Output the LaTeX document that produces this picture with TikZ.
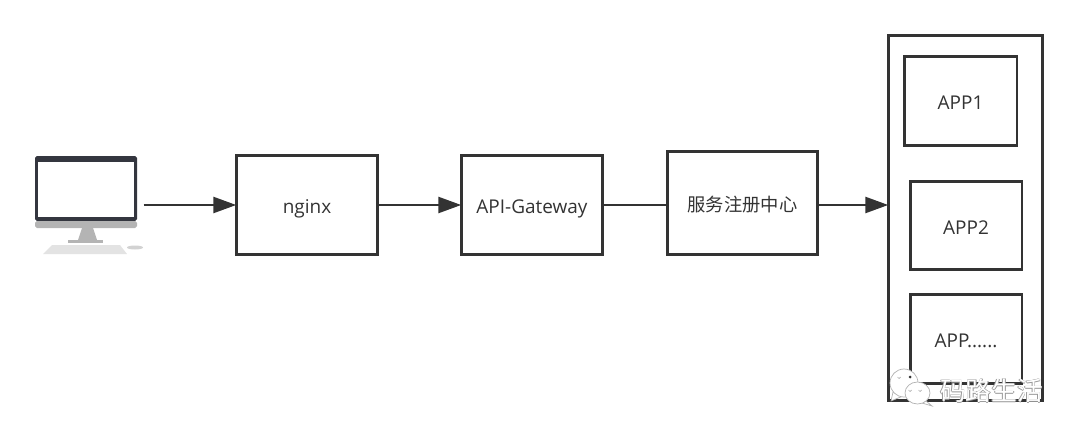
\documentclass[tikz,border=0pt]{standalone}
\usepackage{fontspec}
\setmainfont{Open Sans}
\newfontfamily\cjk{Noto Sans CJK SC}
\usetikzlibrary{arrows.meta}
\definecolor{linegray}{HTML}{333333}
\definecolor{screengray}{HTML}{34363F}
\definecolor{standgray}{HTML}{B4B4B4}

\begin{document}
\begin{tikzpicture}[x=0.02cm,y=-0.02cm,semithick]
\tikzstyle{every node}=[text=linegray,font=\fontsize{10.8}{12}\selectfont]
\tikzstyle{box}=[draw=linegray,line width=1.7pt,inner sep=0pt,text height=10pt,text depth=0pt]
\tikzstyle{link}=[draw=linegray,line width=1.6pt]
\tikzstyle{flow}=[link,shorten >=-1pt,-{Triangle[length=13pt,width=9pt]}]
\tikzstyle{bubble}=[draw=gray!60,fill=white,line width=0.4pt]
\useasboundingbox (0,0) rectangle (1080,436);

% computer
\node[minimum width=2.16cm,minimum height=2cm,inner sep=0pt] (pc) at (89,205) {};
\fill[screengray,rounded corners=1pt] (35,156) rectangle (137,221);
\fill[white] (38,162) rectangle (134,217);
\fill[standgray,rounded corners=1pt] (35,221) rectangle (137,228);
\fill[standgray] (82,228) -- (93,228) -- (97,240) -- (78,240) -- cycle;
\fill[standgray] (68,240) rectangle (103,243);
\fill[gray!22] (52,245) -- (120,245) -- (127,254) -- (43,254) -- cycle;
\fill[gray!35] (135,247.5) ellipse (8 and 2);

% boxes
\node[box,minimum width=2.84cm,minimum height=2cm] (nginx) at (307,205) {nginx};
\node[box,minimum width=2.84cm,minimum height=2cm] (gateway) at (532,205) {API-Gateway};
\node[box,minimum width=3.02cm,minimum height=2.08cm,font=\cjk\fontsize{10.4}{12}\selectfont] (registry) at (742.5,203) {服务注册中心};
\node[box,minimum width=3.1cm,minimum height=7.32cm] (apps) at (965.5,218) {};
\node[box,minimum width=2.26cm,minimum height=1.8cm] (app1) at (960.5,101) {APP1};
\node[box,minimum width=2.24cm,minimum height=1.78cm] (app2) at (966,225.5) {APP2};
\node[box,minimum width=2.24cm,minimum height=1.8cm] (app3) at (966,339) {APP......};

% connectors
\path[flow] (pc.east) -- (nginx.west);
\path[flow] (nginx.east) -- (gateway.west);
\path[link] (gateway.east) -- (registry.west |- gateway.east);
\path[flow] (registry.east |- gateway.east) -- (apps.west |- gateway.east);

% watermark
\draw[bubble] (893,392) -- (891,401) -- (903,396) -- cycle;
\draw[bubble] (904,383) ellipse (14 and 14);
\fill[linegray] (910,377) circle (1.5);
\draw[bubble] (926,401) -- (932,406) -- (922,403) -- cycle;
\draw[bubble] (917.5,393) ellipse (12.5 and 11);
\foreach \ex/\ey in {899/376,910/389,920/389}
  \draw[gray!60,line width=0.4pt] (\ex-1.5,\ey+1) arc (180:0:1.5);
\foreach \dx/\dy in {-0.6/0,0.6/0,0/-0.6,0/0.6}
  \node[text=gray!80,font=\cjk\fontsize{14.6}{16}\selectfont] at (991.5+\dx,391+\dy) {码路生活};
\node[text=white,font=\cjk\fontsize{14.6}{16}\selectfont] (wm) at (991.5,391) {码路生活};
\end{tikzpicture}
\end{document}
